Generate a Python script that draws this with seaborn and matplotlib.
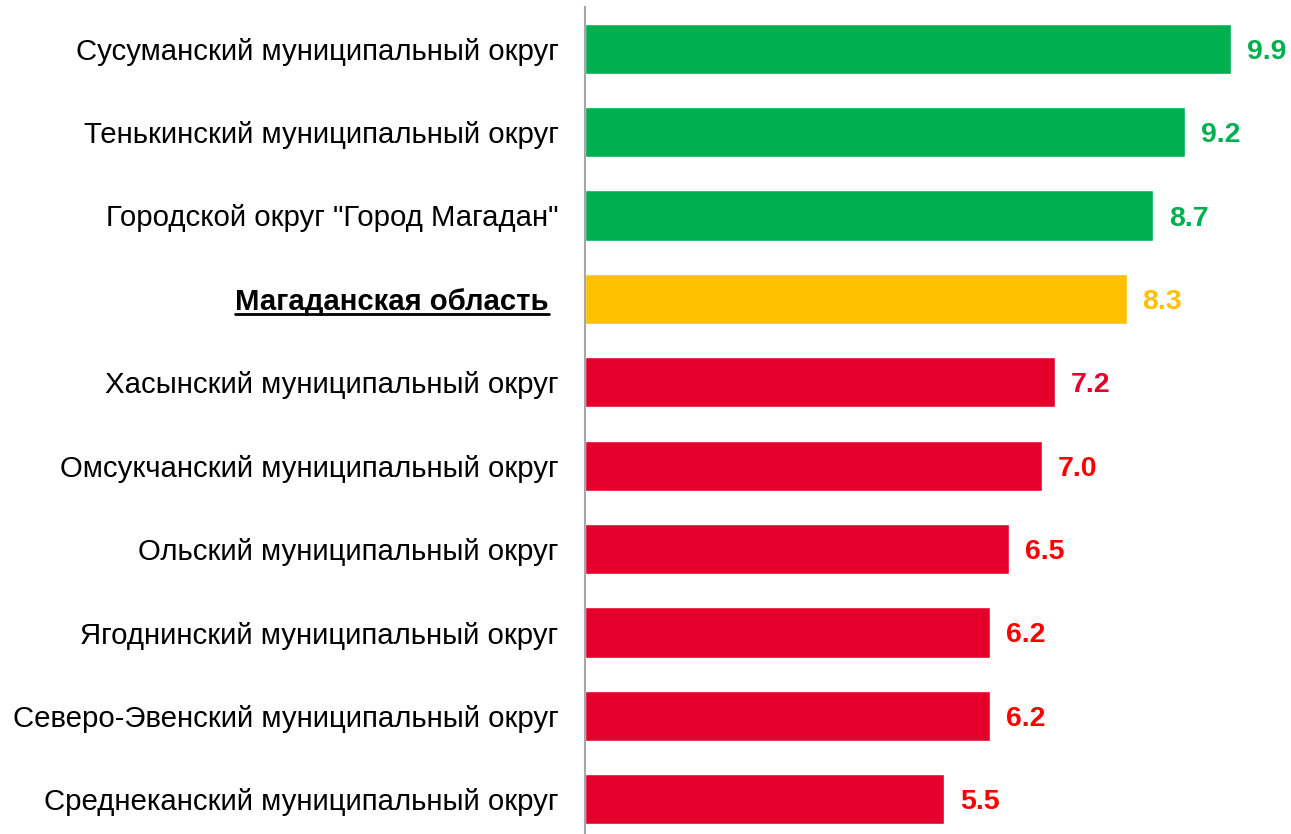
import matplotlib
matplotlib.use("Agg")
import matplotlib.pyplot as plt
import matplotlib.transforms as mtransforms
import seaborn as sns
from matplotlib.lines import Line2D

districts = [
    "Сусуманский муниципальный округ",
    "Тенькинский муниципальный округ",
    "Городской округ \"Город Магадан\"",
    "Магаданская область",
    "Хасынский муниципальный округ",
    "Омсукчанский муниципальный округ",
    "Ольский муниципальный округ",
    "Ягоднинский муниципальный округ",
    "Северо-Эвенский муниципальный округ",
    "Среднеканский муниципальный округ",
]
values = [9.9, 9.2, 8.7, 8.3, 7.2, 7.0, 6.5, 6.2, 6.2, 5.5]

GREEN = "#00B050"
YELLOW = "#FFC000"
RED_BAR = "#E4002B"
RED_TXT = "#FF0000"
bar_colors = [GREEN, GREEN, GREEN, YELLOW] + [RED_BAR] * 6
label_colors = [GREEN, GREEN, GREEN, YELLOW, RED_BAR] + [RED_TXT] * 5
region_name = "Магаданская область"

sns.set_style("white")
plt.rcParams["font.family"] = ["Liberation Sans", "DejaVu Sans"]

W, H = 1291, 834
fig = plt.figure(figsize=(W / 100, H / 100), dpi=100)
ax = fig.add_axes([585 / W, -7 / H, (W - 585) / W, 1.0])

sns.barplot(
    x=values,
    y=districts,
    hue=districts,
    palette=bar_colors,
    saturation=1,
    width=0.6,
    legend=False,
    orient="h",
    ax=ax,
)

ax.set_xlim(0, (W - 585) / 65.25)
ax.set_ylim(9.5, -0.5)
ax.set_xticks([])
ax.set_xlabel("")
ax.set_ylabel("")

for s in ["top", "right", "bottom"]:
    ax.spines[s].set_visible(False)
ax.spines["left"].set_color("#A6A6A6")
ax.spines["left"].set_linewidth(1.5)

ax.tick_params(axis="y", length=0, pad=19, labelsize=21.2, labelcolor="black")
shift = mtransforms.ScaledTranslation(-0.10, 0, fig.dpi_scale_trans)
for lbl in ax.get_yticklabels():
    if lbl.get_text() == region_name:
        lbl.set_fontweight("bold")
        lbl.set_transform(lbl.get_transform() + shift)

# value labels, nudged a few pixels down to sit on the bar centre
down = ax.transData + mtransforms.ScaledTranslation(0, -0.03, fig.dpi_scale_trans)
gap = 16 / 65.25
for i, (v, c) in enumerate(zip(values, label_colors)):
    ax.text(v + gap, i, f"{v:.1f}", va="center", ha="left", transform=down,
            color=c, fontsize=20.5, fontweight="bold")

# underline the region total label
fig.canvas.draw()
renderer = fig.canvas.get_renderer()
for lbl in ax.get_yticklabels():
    if lbl.get_text() == region_name:
        bb = lbl.get_window_extent(renderer)
        y = bb.y0 + 2
        fig.add_artist(Line2D([bb.x0 / W, bb.x1 / W], [y / H, y / H],
                              color="black", linewidth=2,
                              transform=fig.transFigure))

fig.savefig("out.png", dpi=100)
